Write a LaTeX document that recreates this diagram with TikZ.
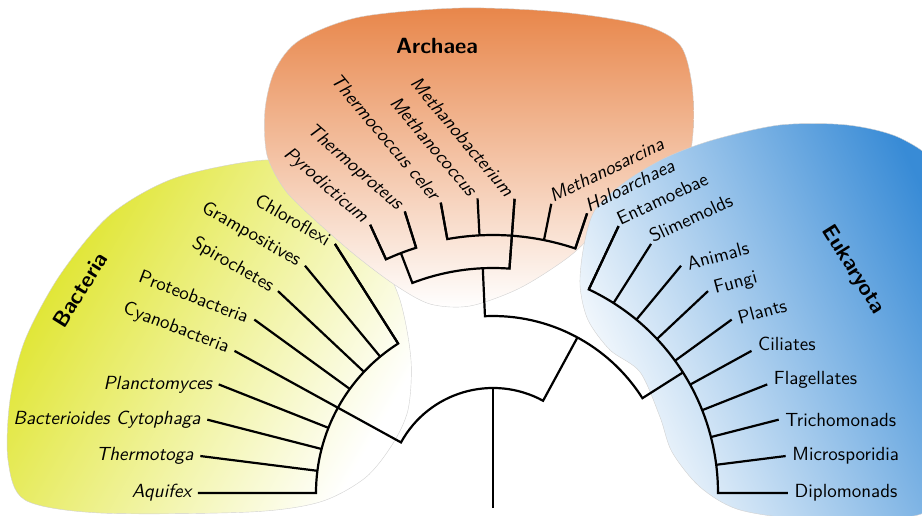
\documentclass[tikz,border=0pt]{standalone}
\definecolor{bactgreen}{RGB}{222,228,38}
\definecolor{archorange}{RGB}{232,134,74}
\definecolor{eukblue}{RGB}{56,139,214}
\begin{document}
\begin{tikzpicture}[x=1pt,y=1pt,
  branch/.style={line width=2.2pt},
  leaflabel/.style={font=\sffamily\fontsize{10}{12}\selectfont, scale=1.9},
  cladelabel/.style={font=\sffamily\bfseries\fontsize{10}{12}\selectfont, scale=2.2},
  blob/.style={draw=black!18, line width=0.4pt}]
\useasboundingbox (-493,-22) rectangle (429,493);

% shaded backgrounds of the three domains
\begin{scope}
  \clip (-493,-22) rectangle (429,493);
  \shade[blob, top color=bactgreen, bottom color=white, shading angle=60]
    plot[smooth cycle] coordinates {(-228,333) (-183,321) (-148,293) (-118,248)
      (-93,193) (-82,133) (-85,83) (-101,48) (-128,15) (-173,-9) (-243,-19)
      (-393,-20) (-468,-7) (-485,33) (-483,93) (-468,153) (-433,218) (-383,278)
      (-318,315)};
  \shade[blob, top color=archorange, bottom color=white]
    plot[smooth cycle] coordinates {(-228,383) (-218,423) (-193,453) (-133,476)
      (-33,485) (67,481) (150,468) (187,448) (199,408) (200,360) (193,325)
      (172,303) (137,293) (112,271) (77,237) (27,205) (-23,187) (-63,189)
      (-98,208) (-138,238) (-178,273) (-208,303) (-226,338)};
  \shade[blob, top color=eukblue, bottom color=white, shading angle=-65]
    plot[smooth cycle] coordinates {(102,283) (132,311) (172,335) (220,353)
      (287,368) (354,368) (407,355) (447,323) (467,243) (462,93) (442,-7)
      (407,-25) (320,-27) (247,-17) (207,6) (179,41) (167,76) (147,121)
      (117,143) (95,173) (87,208) (91,248)};
\end{scope}

% root stem
\coordinate (root) at (-90:15pt);
\coordinate (top) at (90:105pt);
\draw[branch] (root) -- (top);

% leaves: angle / inner radius / name / anchor / label gap / rotation / shape
\foreach \ang/\rin/\txt/\anc/\isep/\rot/\shp [count=\i] in {
  180/177pt/Aquifex/east/0.3333em/0/\itshape,
  172.8/177pt/Thermotoga/east/0.3333em/0/\itshape,
  165.6/177pt/Bacterioides Cytophaga/east/0.3333em/0/\itshape,
  158.4/177pt/Planctomyces/east/0.3333em/0/\itshape,
  151.2/177pt/Cyanobacteria/east/0.3333em/-21/\upshape,
  144/177pt/Proteobacteria/east/0.3333em/-21/\upshape,
  136.8/177pt/Spirochetes/east/0.3333em/-30/\upshape,
  129.6/177pt/Grampositives/east/0.3333em/-30/\upshape,
  122.4/177pt/Chloroflexi/east/0.3333em/-30/\upshape,
  114.6/257pt/Pyrodicticum/east/0.3333em/-41/\itshape,
  107.4/257pt/Thermoproteus/east/0.3333em/-41/\itshape,
  100.2/258pt/Thermococcus celer/east/0.3333em/-50/\itshape,
  93/258pt/Methanococcus/east/0.3333em/-50/\itshape,
  85.8/225pt/Methanobacterium/east/0.3333em/-50/\itshape,
  78.6/258pt/Methanosarcina/base west/1pt/26/\itshape,
  71.4/258pt/Haloarchaea/base west/1pt/26/\itshape,
  64.8/225pt/Entamoebae/base west/1pt/25/\upshape,
  57.6/225pt/Slimemolds/base west/1pt/25/\upshape,
  50.4/225pt/Animals/west/0.3333em/15/\upshape,
  43.2/225pt/Fungi/west/0.3333em/15/\upshape,
  36/225pt/Plants/west/0.3333em/15/\upshape,
  28.8/225pt/Ciliates/base west/0.3333em/0/\upshape,
  21.6/225pt/Flagellates/base west/0.3333em/0/\upshape,
  14.4/225pt/Trichomonads/west/0.3333em/0/\upshape,
  7.2/225pt/Microsporidia/west/0.3333em/0/\upshape,
  0/225pt/Diplomonads/west/0.3333em/0/\upshape}
{
  \coordinate (in\i) at (\ang:\rin);
  \coordinate (tip\i) at (\ang:295pt);
  \draw[branch] (in\i) -- (tip\i);
  \node[leaflabel, inner xsep=\isep, anchor=\anc, rotate=\rot] (lab\i) at (tip\i) {\shp\txt};
}

% inner nodes
\coordinate (bact0) at (151.2:105pt);
\coordinate (bact1) at (151.2:177pt);
\coordinate (ae0) at (61.5:105pt);
\coordinate (ae1) at (61.5:177pt);
\coordinate (arch0) at (92.6:177pt);
\coordinate (arch1) at (92.6:225pt);
\coordinate (euk0) at (32.4:177pt);
\coordinate (euk1) at (32.4:225pt);
\coordinate (cren0) at (111:225pt);
\coordinate (cren1) at (111:257pt);

% branches along arcs
\draw[branch] (bact1) -- (bact0) arc[start angle=151.2, end angle=61.5, radius=105pt] -- (ae1);
\draw[branch] (arch1) -- (arch0) arc[start angle=92.6, end angle=32.4, radius=177pt] -- (euk1);
\draw[branch] (tip1) -- (in1) arc[start angle=180, end angle=122.4, radius=177pt] -- (tip9);
\draw[branch] (cren1) -- (cren0) arc[start angle=111, end angle=85.8, radius=225pt] -- (tip14);
\draw[branch] (tip10) -- (in10) arc[start angle=114.6, end angle=107.4, radius=257pt] -- (tip11);
\draw[branch] (tip12) -- (in12) arc[start angle=100.2, end angle=71.4, radius=258pt] -- (tip16);
\draw[branch] (tip17) -- (in17) arc[start angle=64.8, end angle=0, radius=225pt] -- (tip26);

% domain names
\node[cladelabel, rotate=58] (bacteria) at (-413,203) {Bacteria};
\node[cladelabel] (archaea) at (-56,447) {Archaea};
\node[cladelabel, rotate=-58] (eukaryota) at (360,223) {Eukaryota};
\end{tikzpicture}
\end{document}
